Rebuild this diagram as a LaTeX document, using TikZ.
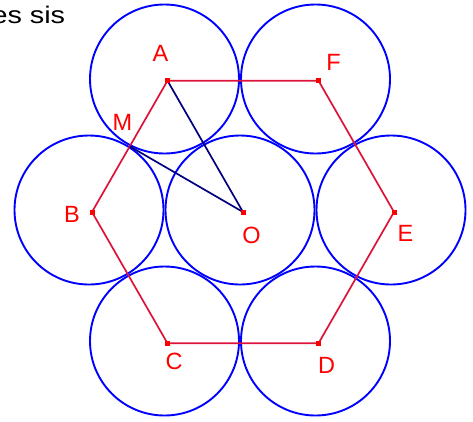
\documentclass[tikz,border=0pt]{standalone}
\usepackage{fontspec}
\setmainfont{Liberation Sans}
\usetikzlibrary{calc}
\definecolor{circblue}{RGB}{0,0,255}
\definecolor{hexred}{RGB}{220,20,60}
\definecolor{labred}{RGB}{255,0,0}
\definecolor{navyc}{RGB}{0,0,128}
\begin{document}
\begin{tikzpicture}[x=1pt,y=-1pt,
  circ/.style={draw=circblue, line width=1.9pt},
  hexline/.style={draw=hexred, line width=1.7pt, line join=miter},
  seg/.style={draw=navyc, line width=1.7pt},
  vmark/.style={fill=labred, minimum size=5pt, inner sep=0pt, shape=rectangle},
  lab/.style={text=labred, font=\fontsize{23.5}{27}\selectfont, inner sep=0pt}]
\useasboundingbox (0,0) rectangle (473,421);
\fill[white] (0,0) rectangle (473,421);
% hexagon vertices and centre
\coordinate (O) at (243,212);
\coordinate (A) at (167.5,80.7);
\coordinate (F) at (318.5,80.7);
\coordinate (E) at (394,212);
\coordinate (D) at (318.5,343.3);
\coordinate (C) at (167.5,343.3);
\coordinate (B) at (92,212);
\coordinate (M) at ($(A)!0.5!(B)$);
% circles
\draw[circ] (164.5,79) circle (74.5);
\draw[circ] (315.5,79) circle (74.5);
\draw[circ] (89,210) circle (74.5);
\draw[circ] (240,210) circle (74.5);
\draw[circ] (391,210) circle (74.5);
\draw[circ] (164.5,341) circle (74.5);
\draw[circ] (315.5,341) circle (74.5);
% hexagon
\draw[hexline] (A) -- (F) -- (E) -- (D) -- (C) -- (B) -- cycle;
% segments
\draw[seg] (A) -- (O);
\draw[seg] (M) -- (O);
% vertex marks
\foreach \p in {A,B,C,D,E,F,O} {\node[vmark] (m\p) at (\p) {};}
% labels
\node[lab] (lA) at (160.5,53.7) {A};
\node[lab] (lF) at (333.5,62) {F};
\node[lab] (lE) at (405.5,233.5) {E};
\node[lab] (lD) at (326.5,365.5) {D};
\node[lab] (lC) at (174,361) {C};
\node[lab] (lB) at (72,214) {B};
\node[lab] (lM) at (122.5,122.5) {M};
\node[lab] (lO) at (251.5,235.5) {O};
% cropped caption text
\node[anchor=base west, inner sep=0pt, font=\fontsize{24}{29}\selectfont] (cap) at (-8.7,23.3) {\scalebox{1.2}[1]{es sis}};
\end{tikzpicture}
\end{document}
